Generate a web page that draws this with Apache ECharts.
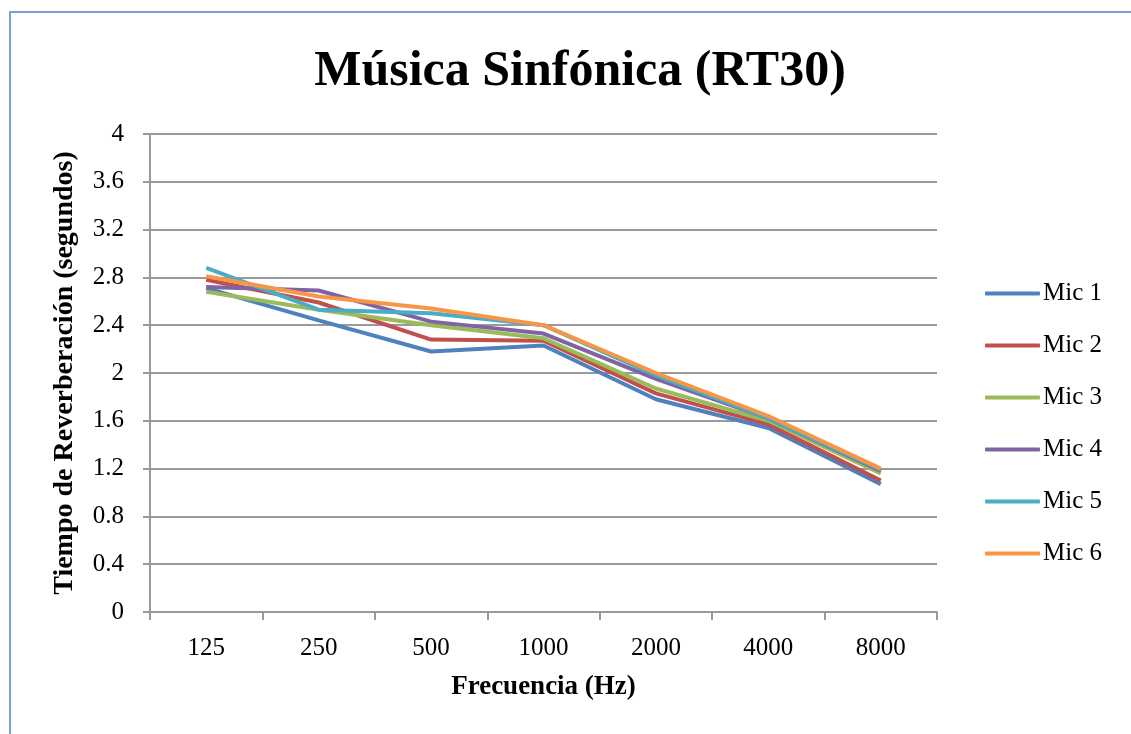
<!DOCTYPE html>
<html>
<head>
<meta charset="utf-8">
<script src="https://cdn.jsdelivr.net/npm/echarts@6/dist/echarts.min.js"></script>
<style>
  html, body { margin: 0; padding: 0; background: #fff; }
  #frame { position: absolute; left: 9px; top: 11px; width: 1140px; height: 740px; border: 2px solid #79a3d3; box-sizing: border-box; }
  #chart { position: absolute; left: 0; top: 0; width: 1131px; height: 734px; }
</style>
</head>
<body>
<div id="frame"></div>
<div id="chart"></div>
<script>
const categories = ['125', '250', '500', '1000', '2000', '4000', '8000'];
const seriesNames = ['Mic 1', 'Mic 2', 'Mic 3', 'Mic 4', 'Mic 5', 'Mic 6'];
const mic1 = [2.71, 2.44, 2.18, 2.23, 1.78, 1.54, 1.07];
const mic2 = [2.78, 2.59, 2.28, 2.27, 1.83, 1.57, 1.10];
const mic3 = [2.68, 2.53, 2.40, 2.29, 1.87, 1.60, 1.16];
const mic4 = [2.72, 2.69, 2.43, 2.33, 1.95, 1.62, 1.18];
const mic5 = [2.88, 2.53, 2.50, 2.40, 1.98, 1.62, 1.19];
const mic6 = [2.81, 2.64, 2.54, 2.40, 2.00, 1.64, 1.20];
const colors = ['#4f81bd', '#c0504d', '#9bbb59', '#8064a2', '#4bacc6', '#f79646'];

const values = [mic1, mic2, mic3, mic4, mic5, mic6];
const serif = '"Liberation Serif", "DejaVu Serif", serif';

const chart = echarts.init(document.getElementById('chart'), null, { renderer: 'canvas' });
chart.setOption({
  animation: false,
  color: colors,
  title: {
    text: 'Música Sinfónica (RT30)',
    left: 575,
    top: 42,
    textAlign: 'center',
    textStyle: { fontFamily: serif, fontWeight: 'bold', fontSize: 50, color: '#000' }
  },
  legend: {
    orient: 'vertical',
    left: 980,
    top: 276,
    itemWidth: 55,
    itemHeight: 4,
    itemGap: 27,
    icon: 'roundRect',
    textStyle: { fontFamily: serif, fontSize: 25, color: '#000', lineHeight: 25, padding: [0, 0, 0, -2] },
    data: seriesNames
  },
  grid: { left: 150, top: 134, right: 194, bottom: 122, containLabel: false },
  xAxis: {
    type: 'category',
    data: categories,
    boundaryGap: true,
    name: 'Frecuencia (Hz)',
    nameLocation: 'middle',
    nameGap: 62,
    nameTextStyle: { fontFamily: serif, fontWeight: 'bold', fontSize: 27, color: '#000' },
    axisLine: { lineStyle: { color: '#9a9a9a', width: 2 } },
    axisTick: { show: true, length: 8, lineStyle: { color: '#9a9a9a', width: 2 } },
    axisLabel: { fontFamily: serif, fontSize: 25, color: '#000', margin: 24 }
  },
  yAxis: {
    type: 'value',
    min: 0,
    max: 4,
    interval: 0.4,
    name: 'Tiempo de Reverberación (segundos)',
    nameLocation: 'middle',
    nameGap: 71,
    nameTextStyle: { fontFamily: serif, fontWeight: 'bold', fontSize: 28, color: '#000' },
    axisLine: { show: true, lineStyle: { color: '#9a9a9a', width: 2 } },
    axisTick: { show: true, length: 7, lineStyle: { color: '#9a9a9a', width: 2 } },
    axisLabel: { fontFamily: serif, fontSize: 25, color: '#000', margin: 26,
      formatter: v => String(Math.round(v * 10) / 10) },
    splitLine: { lineStyle: { color: '#9a9a9a', width: 2 } }
  },
  series: seriesNames.map((name, i) => ({
    name: name,
    type: 'line',
    data: values[i],
    symbol: 'none',
    lineStyle: { width: 4, color: colors[i] },
    itemStyle: { color: colors[i] }
  }))
});
</script>
</body>
</html>
